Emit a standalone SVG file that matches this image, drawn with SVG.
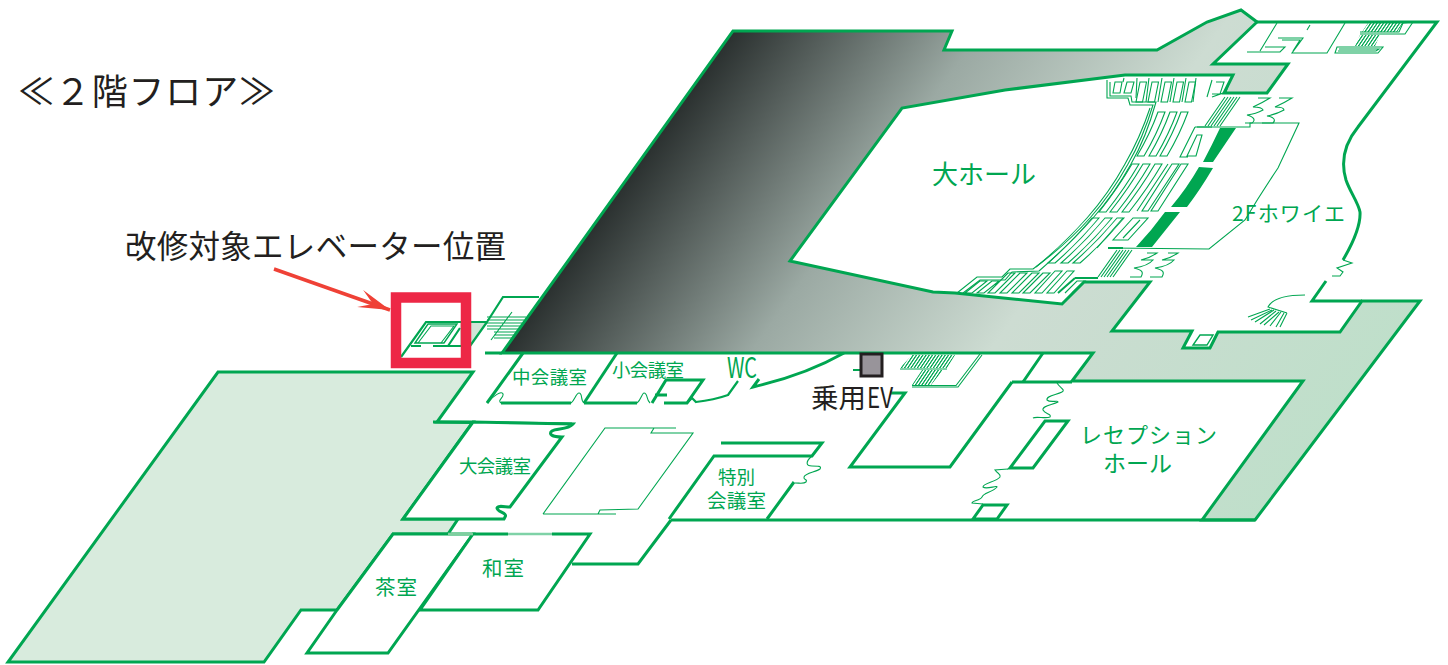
<svg xmlns="http://www.w3.org/2000/svg" xmlns:xlink="http://www.w3.org/1999/xlink" width="1448" height="665" viewBox="0 0 1448 665">
<style>
.o{fill:none;stroke:#00a651;stroke-width:3;stroke-linejoin:miter}
.w{fill:#fff;stroke:#00a651;stroke-width:3}
.t{fill:none;stroke:#00a651;stroke-width:1.100;stroke-linejoin:miter}
.s{fill:#00a651}
.g{fill:#00a651;font-family:"Noto Sans CJK JP","Noto Sans",sans-serif}
.k{fill:#231f20;font-family:"Noto Sans CJK JP","Noto Sans",sans-serif}
</style>
<defs>
<linearGradient id="hg" gradientUnits="userSpaceOnUse" x1="620" y1="190" x2="1203" y2="608">
<stop offset="0" stop-color="#2b3130"/><stop offset=".28" stop-color="#9ba9a3"/><stop offset=".55" stop-color="#cddcd2"/><stop offset="1" stop-color="#bfdfca"/>
</linearGradient>
<pattern id="hatch" width="3.200" height="6" patternUnits="userSpaceOnUse" patternTransform="skewX(-34)">
<rect width="1.500" height="6" fill="#00a651"/>
</pattern>
<marker id="ah" markerUnits="userSpaceOnUse" markerWidth="34" markerHeight="24" refX="32" refY="12" orient="auto">
<path d="M0,2 L32,12 L0,20 L14,12Z" fill="#ef4136"/>
</marker>
<path id="r2" class="t" d="M0,0 Q-8,22 -21,44 L-14,44 Q-1,22 7,0Z"/>
<path id="r3" class="t" d="M0,0 Q-14,24 -33,48 L-26,48 Q-7,24 7,0Z"/>
<path id="r4" class="t" d="M0,0 Q-20,24 -44,45 L-37,45 Q-13,24 7,0Z"/>
<path id="tall" class="t" d="M0,0 L-4,20 L2.500,20 L6.500,0Z"/>
</defs>

<g id="hall-block">
<path class="o" style="fill:url(#hg)" d="M502,353 L733,31 L952,31 L944,50 L1157,50 L1207,22 L1241,10 L1257,22 L1213,64 L1288,64 L1267,93 L1224,93 L1233,75 L1125,75 L1005,90 L902,108 L790,261 L933,292 L955,293 L1062,304 L1084,282 L1150,282 L1112,331 L1192,331 L1183,348 L1210,348 L1218,332 L1340,332 L1362,301 L1420,301 L1255,520 L1202,520 L1303,381 L1072,381 L1093,353 Z"/>
<path class="w" d="M1193,345 L1207,345 L1213,335 L1200,335Z" style="stroke-width:1.400"/>
<path class="o" d="M1012,382 L1072,382"/>
</g>

<g id="left-wing">
<path class="o" style="fill:#d8ebdd" d="M218,372 L473,372 L437,422 L473,422 L403,519 L458,519 L448,534 L393,534 L337,610 L301,610 L264,662 L8,662 Z"/>
</g>

<g id="outer-walls">
<path class="o" d="M1257,22 L1437,22 L1358,127 C1345,143 1340,160 1346,180 C1350,192 1358,202 1360,212 C1361,228 1350,248 1343,260"/>
<path class="t" d="M1343,260 L1352,263 L1337,268 L1343,272 L1340,276 L1332,276"/>
<path class="o" d="M1326,281 L1312,301 L1362,301"/>
<path class="o" d="M433,422 L572,424"/>
<path class="o" d="M485,353 L502,353"/>
<path class="o" d="M671,520 L1255,520 M671,520 L638,564 L572,564"/>
</g>

<g id="room-elevator">
<path d="M460,322 L487,322 L470,346 L460,346Z" fill="#d0e6d6"/>
<path class="o" style="stroke-width:2.200" d="M401,357 L426,322 L487,322 L503,297 L539,297 M487,322 L465,353"/>
<path class="t" style="stroke-width:1.400" d="M415,343 L428,324 L457,324 L444,343 Z"/>
<path class="t" d="M418,343 L431,326 L454,326 L441,343"/>
<path class="o" style="stroke-width:2.200" d="M411,346 L421,346 M433,346 L471,346 M448,346 L460,328"/>
</g>

<g id="stairs-west">
<path class="t" d="M487,317 H526 M487,320 H524 M487,323 H522 M487,326 H520 M487,329 H518 M494,332 H516 M494,335 H514 M494,338 H512 M512,312 L491,340"/>
</g>

<g id="room-naka">
<path class="o" d="M523,353 L487,403 M501,403 L571,403 M584,403 L637,403"/>
<path class="t" d="M487,403 C493,396 502,390 503,394 C504,398 497,400 501,403 M571,403 C575,400 576,393 579,393 C583,393 580,400 584,403"/>
<text class="g" x="512" y="384" font-size="18.500" textLength="75">中会議室</text>
</g>
<g id="room-sho">
<path class="o" d="M617,353 L584,403"/>
<path class="t" d="M637,403 C641,400 642,393 644,393 C648,393 646,400 650,403"/>
<text class="g" x="612" y="377" font-size="18.500" textLength="72">小会議室</text>
</g>
<g id="room-wc">
<path class="o" d="M652,403 L666,380 L703,380 L687,403 L664,403 M655,395 L667,395"/>
<path class="o" style="stroke-width:2.200" d="M687,403 L692,398 L696,402 Q714,400 728,395 L738,381"/>
<path class="o" d="M759,379 L753,387 Q805,375 844,353"/>
<text class="g" x="727" y="378" font-size="28" textLength="30" lengthAdjust="spacingAndGlyphs">WC</text>
</g>

<g id="room-dai">
<path class="w" d="M473,422 L403,519 L504,519 L505,517 C508,513 497,512 497,508 C498,505 505,507 510,507 L562,437 C552,437 548,434 552,431 C556,428 568,430 573,424 Z"/>
<text class="g" x="459" y="473" font-size="18.500" textLength="72">大会議室</text>
</g>

<g id="room-center">
<path class="t" d="M543,514 L605,428 L676,428 M654,428 L651,433 L693,433 L638,509 L600,510 L598,514 M543,514 L616,514"/>
</g>

<g id="room-tokubetsu">
<path class="o" d="M721,443 L822,443 L812,456 L714,456 L669,519 M767,519 L794,482"/>
<path class="t" d="M812,456 C805,462 806,466 812,466 C818,466 822,466 820,469 C816,472 805,473 804,477 C803,480 808,479 806,482 C804,484 800,483 795,483"/>
<text class="g" x="718" y="484" font-size="18.500" textLength="37">特別</text>
<text class="g" x="707" y="508" font-size="19.500" textLength="59">会議室</text>
</g>

<g id="room-cha">
<path class="w" d="M393,534 L473,534 L388,653 L307,653 L337,610 Z"/>
<text class="g" x="375" y="595" font-size="20.500" textLength="42">茶室</text>
</g>
<g id="room-wa">
<path class="w" d="M473,534 L508,534 L590,534 L538,610 L420,610 Z"/>
<path d="M508,534 H552" stroke="#fff" stroke-width="3.400"/>
<path class="t" d="M508,534 H552"/>
<path d="M448,534 H473" stroke="#7fcf9f" stroke-width="2.600"/>
<text class="g" x="482" y="576" font-size="20.500" textLength="42">和室</text>
</g>

<g id="room-ev-core">
<path class="o" style="stroke-width:2.200" d="M853,370 L861,370 L868,355"/>
<path class="o" d="M890,393 L905,393 L850,467 L950,467 L1012,382 M1043,353 L1023,382"/>
<path class="t" d="M900,369 H947 M912,387 H958 L982,355 M912,385.500 H956 L980,354"/>
<path fill="url(#hatch)" d="M912,355 L955,355 L947,368 L900,368Z M922,370 L943,370 L931,385 L912,385Z"/>
</g>

<g id="ev-passenger">
<rect x="861" y="354" width="21" height="22" fill="#98949a" stroke="#231f20" stroke-width="3"/>
<text class="k" x="811" y="408" font-size="27.500">乗用</text>
<text class="k" x="867" y="408" font-size="29" textLength="26" lengthAdjust="spacingAndGlyphs">EV</text>
</g>

<g id="room-reception">
<path class="o" d="M1045,421 L1068,421 L1033,468 L1010,468 Z M983,505 L1007,505 L997,519 L973,519 Z"/>
<path class="t" d="M1057,383 C1060,388 1066,390 1062,392 C1056,395 1046,396 1047,400 C1050,403 1058,400 1058,402 C1052,405 1042,406 1043,410 C1045,414 1052,414 1050,417 C1046,419 1036,416 1033,418"/>
<path class="t" d="M1008,469 L995,470 C998,474 1001,474 1000,477 C996,482 983,483 983,487 C986,490 997,485 997,487 C993,492 983,493 982,497 C980,501 972,500 972,503 L983,504"/>
<text class="g" x="1080" y="443" font-size="22" textLength="137">レセプション</text>
<text class="g" x="1103" y="472" font-size="23" textLength="69">ホール</text>
</g>

<g id="upper-right">
<path class="t" d="M1277,23 L1260,51 M1247,52 H1280 L1285,47 H1265 M1278,38 H1303 L1292,53 H1327 L1345,23 M1310,25 L1307,30 M1282,40 H1300 L1293,51"/>
<path fill="url(#hatch)" d="M1368,23 L1403,23 L1397,32 L1362,32Z M1360,35 L1380,35 L1375,46 L1355,46Z"/>
<path class="t" d="M1403,23 L1413,22 L1405,34 L1360,34 M1360,32 H1399 L1403,23"/>
<path class="t" d="M1337,47 H1383 L1378,53 H1335 Z M1339,49 H1379 L1376,51 H1338"/>
</g>

<g id="fan">
<path class="t" d="M1305,295 C1285,295 1272,299 1268,307 L1287,313 M1270,309 L1248,317 M1272,310 L1251,320 M1274,310 L1255,322 M1276,311 L1260,324 M1279,312 L1264,325 M1281,312 L1270,326 M1284,313 L1276,327 M1287,313 L1280,327"/>
</g>

<g id="foyer">
<path class="t" d="M1197,127 L1250,127 L1250,123 L1299,123 L1278,168 Q1260,195 1245,220 L1209,249 L1110,248"/>
<path class="s" d="M1220,128 L1236,128 L1213,162 L1203,162 Q1212,145 1220,128Z M1199,167 L1213,168 Q1200,190 1187,207 L1171,207 Q1187,188 1199,167Z M1165,212 L1180,212 L1152,247 L1136,247 Q1152,230 1165,212Z"/>
<path class="t" d="M1225,97 L1205,126 M1228,97 L1208,126 M1231,97 L1211,126 M1234,97 L1214,126 M1237,97 L1217,126 M1240,97 L1220,126"/>
<path class="t" d="M1117,250 L1098,277 M1120,250 L1101,277 M1123,250 L1104,277 M1126,250 L1107,277 M1129,250 L1110,277 M1132,250 L1113,277"/>
<path class="t" d="M1258,98 H1270 Q1262,103 1253,107 Q1262,107 1263,110 Q1256,114 1247,115 C1254,117 1256,120 1252,123 H1245"/>
<path class="t" d="M1279,98 H1292 Q1284,103 1275,107 Q1284,107 1284,110 Q1277,114 1267,116 C1274,117 1276,120 1273,123 H1262"/>
<path class="t" d="M1147,253 H1157 Q1150,258 1141,260 H1153 Q1148,266 1134,268 C1142,270 1144,272 1141,277 H1130"/>
<path class="t" d="M1168,253 H1178 Q1171,258 1162,260 H1174 Q1169,266 1155,268 C1163,270 1165,272 1162,277 H1150"/>
<text class="g" x="1232" y="221" font-size="21" textLength="113">2Fホワイエ</text>
</g>

<g id="hall-seats">
<path class="t" d="M1107,80 L1107,98 L1128,98 L1130,105 L1153,105 Q1143,138 1128,164 Q1112,193 1090,218 Q1067,244 1033,269 L1010,269 L1002,277 L977,277 L957,293"/>
<path class="t" d="M1110,82 L1110,96 L1131,96 L1132,102 L1156,102 Q1146,138 1131,164 Q1115,193 1093,218 Q1070,244 1039,271 L1012,272 L1005,280 L980,280 L963,293"/>
<path class="t" d="M1150,108 Q1140,138 1125,164 Q1109,193 1087,218 Q1064,244 1036,267"/>
<path class="t" d="M1115,82 H1122 L1120,93 H1113Z M1127,82 H1134 L1131,93 H1124Z"/>
<use href="#tall" xlink:href="#tall" x="1140" y="82"/><use href="#tall" xlink:href="#tall" x="1152" y="82"/><use href="#tall" xlink:href="#tall" x="1165" y="82"/><use href="#tall" xlink:href="#tall" x="1177" y="82"/><use href="#tall" xlink:href="#tall" x="1189" y="82"/>
<path class="t" d="M1124,78 L1123,82 M1137,78 L1136,98 M1149,78 L1146,102 M1162,78 L1158,102 M1174,78 L1170,102 M1186,78 L1182,102 M1196,78 L1193,102"/>
<path class="t" d="M1207,97 L1212,80 M1216,82 H1224 L1220,94 H1212 M1230,80 L1226,92 L1212,97"/>
<use href="#r2" xlink:href="#r2" x="1158" y="112"/><use href="#r2" xlink:href="#r2" x="1170" y="112"/><use href="#r2" xlink:href="#r2" x="1181" y="112"/>
<use href="#r3" xlink:href="#r3" x="1132" y="164"/><use href="#r3" xlink:href="#r3" x="1143" y="164"/><use href="#r3" xlink:href="#r3" x="1155" y="164"/>
<use href="#r4" xlink:href="#r4" x="1092" y="218"/><use href="#r4" xlink:href="#r4" x="1105" y="218"/><use href="#r4" xlink:href="#r4" x="1117" y="218"/>
<path class="t" d="M980,281 L965,293 H972 L987,281Z M992,281 L977,293 H984 L999,281Z M1008,273 L988,293 H995 L1015,273Z M1020,273 L1000,293 H1007 L1027,273Z M1032,273 L1012,293 H1019 L1039,273Z M1043,273 L1023,293 H1030 L1050,273Z M1055,271 L1035,293 H1042 L1062,271Z M1067,271 L1047,293 H1054 L1074,271Z"/>
<path class="t" d="M1195,127 L1212,127 M1195,127 L1180,157 L1188,157 M1197,135 H1202 L1196,156 H1187Z"/>
<path class="t" d="M1172,164 H1179 L1148,211 H1142Z M1181,164 H1188 L1158,211 H1151Z M1168,164 L1137,211"/>
<path class="t" d="M1133,218 L1113,240 H1128 L1148,218 Z M1140,220 L1123,238"/>
<path class="o" style="stroke-width:2" d="M1108,248 H1123"/>
<path class="t" d="M1123,218 L1097,248"/>
<path class="o" style="stroke-width:2" d="M1075,278 H1098 M1075,278 L1058,293"/>
<path class="t" d="M1065,293 L1077,281 H1085 L1072,293"/>
</g>

<g id="target-marker">
<rect x="396" y="297.500" width="70" height="65.500" fill="none" stroke="#ed2746" stroke-width="10.500"/>
</g>

<g id="connectors">
<line x1="274" y1="269" x2="390" y2="310" stroke="#ef4136" stroke-width="3.500" marker-end="url(#ah)"/>
</g>

<g id="labels">
<text class="k" x="18" y="105" font-size="36" textLength="257">≪２階フロア≫</text>
<text class="k" x="125" y="258" font-size="31.500" textLength="381">改修対象エレベーター位置</text>
<text class="g" x="932" y="184" font-size="26" textLength="104">大ホール</text>
</g>
</svg>
